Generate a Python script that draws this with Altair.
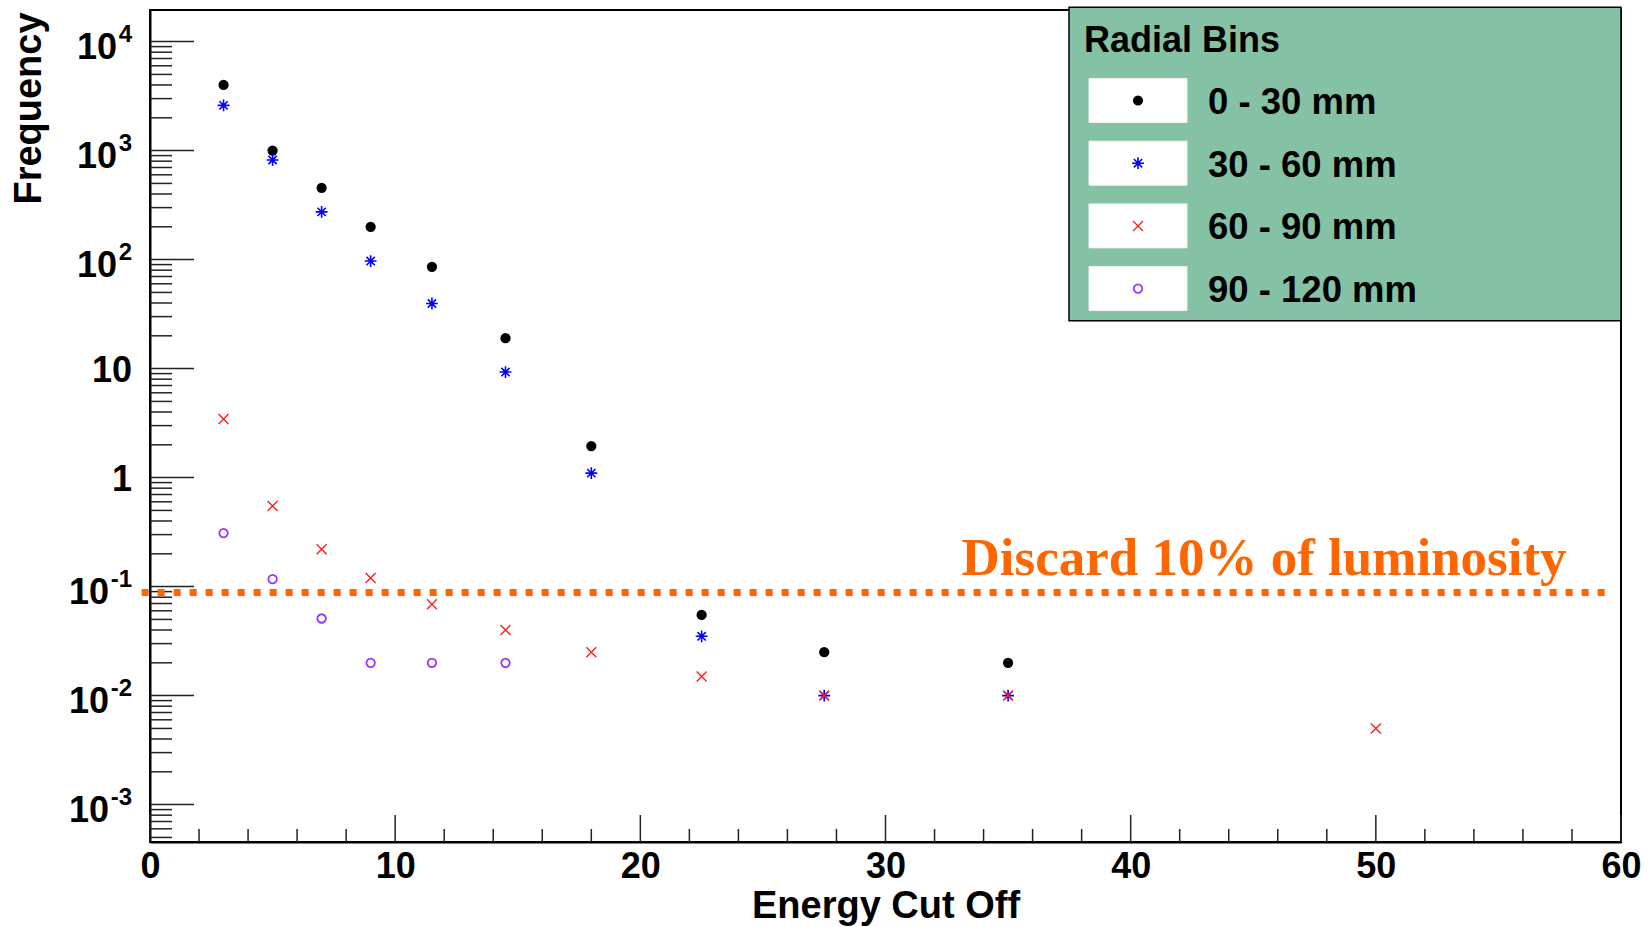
import altair as alt
import pandas as pd

# ---- data -------------------------------------------------------------
energy = [3, 5, 7, 9, 11.5, 14.5, 18, 22.5, 27.5, 35, 50]
bins = ["0 - 30 mm", "30 - 60 mm", "60 - 90 mm", "90 - 120 mm"]
freq_0_30 = [4000, 1000, 455, 200, 86, 19, 1.95, 0.055, 0.025, 0.02]
freq_30_60 = [2600, 820, 274, 97, 39.6, 9.3, 1.1, 0.035, 0.01, 0.01]
freq_60_90 = [3.45, 0.55, 0.22, 0.12, 0.069, 0.04, 0.025, 0.015, 0.01, 0.01, 0.005]
freq_90_120 = [0.31, 0.117, 0.051, 0.02, 0.02, 0.02]

cut_level = 0.0885
cut_span = [-0.34, 59.35]
note_text = "Discard 10% of luminosity"
note_pos = [33.1, 0.127]

x_domain = [0, 60]
y_domain = [4.54e-4, 1.95e4]
x_major = [0, 10, 20, 30, 40, 50, 60]
x_minor = [v for v in range(2, 60, 2) if v % 10]
y_major = [10.0 ** k for k in range(-3, 5)]
y_minor = [m * 10.0 ** k for k in range(-4, 4) for m in range(2, 10)
           if y_domain[0] <= m * 10.0 ** k <= y_domain[1]]
y_label_base = ["10", "10", "10", "1", "10", "10", "10", "10"]
y_label_exp = ["-3", "-2", "-1", "", "", "2", "3", "4"]

# ---- styling ----------------------------------------------------------
W, H = 1471, 832
SANS = "Liberation Sans"
SERIF = "Liberation Serif"
ORANGE = "#FF6600"
ASTERISK = "M-1,0L1,0M0,-1L0,1M-0.7,-0.7L0.7,0.7M-0.7,0.7L0.7,-0.7"
XMARK = "M-1,-1L1,1M-1,1L1,-1"

series = [
    (bins[0], freq_0_30, "#000000", "circle", True, 105, 1.0),
    (bins[1], freq_30_60, "#0000FF", ASTERISK, False, 140, 1.6),
    (bins[2], freq_60_90, "#FF2020", XMARK, False, 100, 1.4),
    (bins[3], freq_90_120, "#9933FF", "circle", False, 72, 1.8),
]

rows = []
for name, vals, *_ in series:
    for e, f in zip(energy, vals):
        rows.append({"bin": name, "energy": e, "freq": f})
df = pd.DataFrame(rows)

xscale = alt.Scale(domain=x_domain, nice=False, zero=False)
yscale = alt.Scale(type="log", domain=y_domain, nice=False)

x_axis = alt.Axis(
    values=x_major, format="d", ticks=False, tickSize=0, grid=False, labelFlush=False,
    labelFontSize=36, labelFont=SANS, labelFontWeight="bold", labelColor="black",
    labelPadding=7, domainColor="black", domainWidth=2,
    title="Energy Cut Off", titleFontSize=38, titleFont=SANS, titleFontWeight="bold",
    titleColor="black", titleBaseline="alphabetic", titleY=75,
)
y_axis = alt.Axis(
    values=y_major, labels=False, ticks=False, tickSize=0, grid=False,
    domainColor="black", domainWidth=2,
    title="Frequency", titleFontSize=38, titleFont=SANS, titleFontWeight="bold",
    titleColor="black", titleAngle=270, titleAlign="center", titleBaseline="alphabetic",
    titleX=-110, titleY=98,
)


def xenc(field="energy"):
    return alt.X(f"{field}:Q", scale=xscale, axis=x_axis)


def yenc(field="freq"):
    return alt.Y(f"{field}:Q", scale=yscale, axis=y_axis)


layers = []

# inward ticks along the left and bottom edges
TICK = dict(color="#222222", strokeWidth=1.5)
layers.append(alt.Chart(pd.DataFrame({"freq": y_major})).mark_rule(**TICK).encode(
    y=yenc(), x=alt.value(0), x2=alt.value(44)))
layers.append(alt.Chart(pd.DataFrame({"freq": y_minor})).mark_rule(**TICK).encode(
    y=yenc(), x=alt.value(0), x2=alt.value(22)))
layers.append(alt.Chart(pd.DataFrame({"energy": x_major})).mark_rule(**TICK).encode(
    x=xenc(), y=alt.value(H), y2=alt.value(H - 27)))
layers.append(alt.Chart(pd.DataFrame({"energy": x_minor})).mark_rule(**TICK).encode(
    x=xenc(), y=alt.value(H), y2=alt.value(H - 13)))

# y tick labels written as power-of-ten with a raised exponent
ylab = pd.DataFrame({"freq": y_major, "base": y_label_base, "exp": y_label_exp})
LAB = dict(font=SANS, fontWeight="bold", color="black", align="right", baseline="alphabetic")
layers.append(alt.Chart(ylab).transform_filter("datum.exp != ''").mark_text(
    fontSize=24, **LAB).encode(y=yenc(), text="exp:N", x=alt.value(-18)))
layers.append(alt.Chart(ylab).transform_filter("datum.exp == ''").mark_text(
    fontSize=36, dy=13, **LAB).encode(y=yenc(), text="base:N", x=alt.value(-18)))
layers.append(alt.Chart(ylab).transform_filter("indexof(datum.exp, '-') == 0").mark_text(
    fontSize=36, dy=17, **LAB).encode(y=yenc(), text="base:N", x=alt.value(-41)))
layers.append(alt.Chart(ylab).transform_filter("datum.exp != '' && indexof(datum.exp, '-') < 0").mark_text(
    fontSize=36, dy=17, **LAB).encode(y=yenc(), text="base:N", x=alt.value(-33)))

# luminosity cut line
layers.append(
    alt.Chart(pd.DataFrame({"energy": [cut_span[0]], "energy2": [cut_span[1]], "freq": [cut_level]}))
    .mark_rule(color=ORANGE, strokeWidth=7, strokeDash=[7, 9], strokeCap="butt")
    .encode(x=xenc(), x2="energy2:Q", y=yenc())
)

# data points, one layer per radial bin
for name, vals, color, shape, filled, size, sw in series:
    layers.append(
        alt.Chart(df).transform_filter(alt.datum.bin == name).mark_point(
            shape=shape, filled=filled, color=color, size=size, strokeWidth=sw, opacity=1
        ).encode(x=xenc(), y=yenc())
    )

# annotation above the cut line
layers.append(
    alt.Chart(pd.DataFrame({"energy": [note_pos[0]], "freq": [note_pos[1]]})).mark_text(
        text=note_text, font=SERIF, fontWeight="bold", fontSize=53, color=ORANGE,
        align="left", baseline="alphabetic"
    ).encode(x=xenc(), y=yenc())
)

# legend box
one = pd.DataFrame({"k": [0]})
layers.append(
    alt.Chart(one).mark_rect(fill="#85C1A4", stroke="black", strokeWidth=1.5).encode(
        x=alt.value(919), x2=alt.value(W), y=alt.value(-2.7), y2=alt.value(310.7)
    )
)
layers.append(
    alt.Chart(one).mark_text(
        text="Radial Bins", font=SANS, fontWeight="bold", fontSize=36, color="black",
        align="left", baseline="alphabetic"
    ).encode(x=alt.value(934), y=alt.value(41.7))
)
row_top, row_step = 90.5, 62.7
for i, (name, vals, color, shape, filled, size, sw) in enumerate(series):
    cy = row_top + i * row_step
    layers.append(
        alt.Chart(one).mark_rect(fill="white", stroke="#F2F2F2", strokeWidth=1).encode(
            x=alt.value(939), x2=alt.value(1037), y=alt.value(cy - 22), y2=alt.value(cy + 22)
        )
    )
    layers.append(
        alt.Chart(one).mark_point(
            shape=shape, filled=filled, color=color, size=size, strokeWidth=sw, opacity=1
        ).encode(x=alt.value(988), y=alt.value(cy))
    )
    layers.append(
        alt.Chart(one).mark_text(
            text=name, font=SANS, fontWeight="bold", fontSize=36.5, color="black",
            align="left", baseline="alphabetic"
        ).encode(x=alt.value(1058), y=alt.value(cy + 13.5))
    )

chart = alt.layer(*layers).properties(
    width=W, height=H,
    autosize=alt.AutoSizeParams(type="none"),
    padding={"left": 150, "top": 10, "right": 31, "bottom": 85},
    background="white",
).configure_view(stroke="black", strokeWidth=2)

chart.save("out.html", embed_options={"renderer": "svg", "actions": False})
